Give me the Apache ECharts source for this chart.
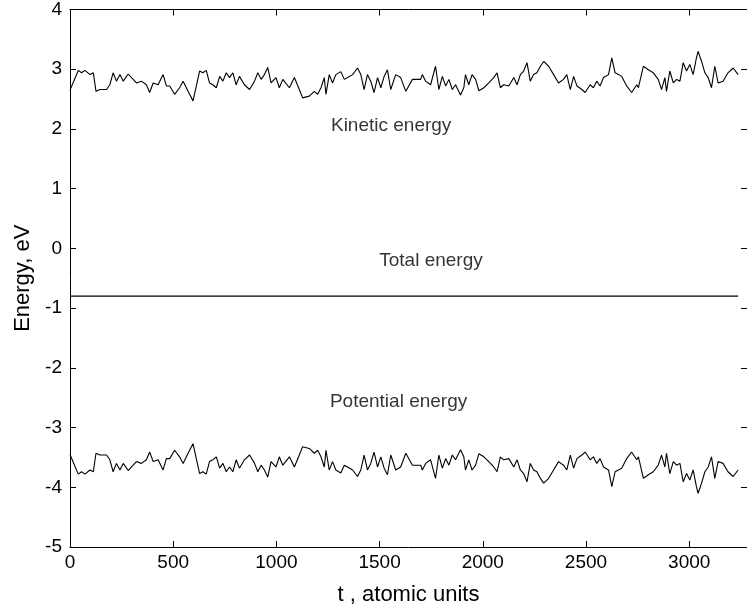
<!DOCTYPE html>
<html>
<head>
<meta charset="utf-8">
<script src="https://cdn.jsdelivr.net/npm/echarts@6/dist/echarts.min.js"></script>
<style>
html,body{margin:0;padding:0;background:#fff;}
#chart{width:747px;height:615px;}
</style>
</head>
<body>
<div id="chart"></div>
<script>
// time, atomic units
const time = [0,40,56,72,97,113,126,145,177,193,
209,225,242,258,282,298,322,346,370,386,
403,427,451,467,483,507,531,548,572,596,
628,644,660,676,692,709,725,741,757,773,
789,805,821,845,870,894,910,926,942,958,
974,998,1014,1031,1063,1087,1111,1127,1159,1184,
1200,1216,1232,1240,1256,1272,1288,1312,1329,1345,
1369,1393,1409,1425,1441,1457,1473,1490,1506,1522,
1538,1554,1578,1602,1627,1659,1699,1707,1723,1747,
1771,1787,1804,1820,1836,1852,1868,1892,1908,1916,
1932,1948,1965,1981,2005,2029,2053,2069,2085,2101,
2126,2150,2166,2182,2198,2214,2230,2246,2262,2279,
2295,2319,2343,2367,2391,2407,2424,2440,2456,2480,
2496,2520,2536,2552,2568,2585,2609,2625,2641,2657,
2673,2697,2721,2746,2754,2778,2802,2826,2850,2866,
2882,2890,2906,2923,2939,2955,2971,2987,3003,3019,
3035,3043,3060,3076,3092,3108,3124,3140,3164,3188,
3213,3237];

// kinetic energy, eV
const kinetic = [2.65,2.98,2.94,2.98,2.91,2.94,2.63,2.66,2.66,2.74,
2.94,2.80,2.91,2.80,2.92,2.86,2.77,2.80,2.74,2.61,
2.77,2.74,2.91,2.72,2.72,2.58,2.69,2.80,2.63,2.47,
2.97,2.94,2.98,2.77,2.74,2.69,2.88,2.80,2.94,2.86,
2.94,2.74,2.88,2.74,2.66,2.80,2.94,2.83,2.91,3.03,
2.77,2.86,2.69,2.83,2.69,2.86,2.66,2.52,2.55,2.63,
2.58,2.69,2.86,2.58,2.91,2.77,2.91,2.96,2.83,2.86,
2.91,3.02,2.91,2.66,2.91,2.80,2.61,2.86,2.69,2.88,
2.99,2.66,2.91,2.86,2.63,2.83,2.83,2.91,2.80,2.74,
3.05,2.66,2.88,2.72,2.83,2.66,2.74,2.57,2.69,2.91,
2.74,2.91,2.83,2.64,2.69,2.77,2.86,2.94,2.69,2.74,
2.72,2.86,2.74,2.91,2.97,3.11,2.80,2.91,2.94,3.05,
3.13,3.05,2.91,2.77,2.83,2.91,2.66,2.88,2.72,2.66,
2.61,2.74,2.69,2.80,2.72,2.86,2.91,3.19,2.94,2.91,
2.88,2.72,2.61,2.74,2.69,3.05,2.99,2.94,2.83,2.66,
2.86,2.63,2.97,2.77,2.83,2.80,3.11,2.97,3.08,2.91,
3.19,3.30,3.13,2.94,2.86,2.69,3.05,2.77,2.80,2.94,
3.02,2.91];

// potential energy, eV
const potential = [-3.45,-3.78,-3.74,-3.78,-3.71,-3.74,-3.43,-3.46,-3.46,-3.54,
-3.74,-3.60,-3.71,-3.60,-3.72,-3.66,-3.57,-3.60,-3.54,-3.41,
-3.57,-3.54,-3.71,-3.52,-3.52,-3.38,-3.49,-3.60,-3.43,-3.27,
-3.77,-3.74,-3.78,-3.57,-3.54,-3.49,-3.68,-3.60,-3.74,-3.66,
-3.74,-3.54,-3.68,-3.54,-3.46,-3.60,-3.74,-3.63,-3.71,-3.83,
-3.57,-3.66,-3.49,-3.63,-3.49,-3.66,-3.46,-3.32,-3.35,-3.43,
-3.38,-3.49,-3.66,-3.38,-3.71,-3.57,-3.71,-3.76,-3.63,-3.66,
-3.71,-3.82,-3.71,-3.46,-3.71,-3.60,-3.41,-3.66,-3.49,-3.68,
-3.79,-3.46,-3.71,-3.66,-3.43,-3.63,-3.63,-3.71,-3.60,-3.54,
-3.85,-3.46,-3.68,-3.52,-3.63,-3.46,-3.54,-3.37,-3.49,-3.71,
-3.54,-3.71,-3.63,-3.44,-3.49,-3.57,-3.66,-3.74,-3.49,-3.54,
-3.52,-3.66,-3.54,-3.71,-3.77,-3.91,-3.60,-3.71,-3.74,-3.85,
-3.93,-3.85,-3.71,-3.57,-3.63,-3.71,-3.46,-3.68,-3.52,-3.46,
-3.41,-3.54,-3.49,-3.60,-3.52,-3.66,-3.71,-3.99,-3.74,-3.71,
-3.68,-3.52,-3.41,-3.54,-3.49,-3.85,-3.79,-3.74,-3.63,-3.46,
-3.66,-3.43,-3.77,-3.57,-3.63,-3.60,-3.91,-3.77,-3.88,-3.71,
-3.99,-4.10,-3.93,-3.74,-3.66,-3.49,-3.85,-3.57,-3.60,-3.74,
-3.82,-3.71];

// total energy, eV (constant)
const totalTime = [0, 3237];
const total = [-0.8, -0.8];

// axis ticks
const xTicks = [0, 500, 1000, 1500, 2000, 2500, 3000];
const yTicks = [-5, -4, -3, -2, -1, 0, 1, 2, 3, 4];

// in-plot annotations (data coordinates of text centres)
const noteText = ['Kinetic energy', 'Total energy', 'Potential energy'];
const noteT = [1556, 1749, 1592];
const noteE = [2.05, -0.2, -2.57];

const FONT = '"Liberation Sans", Arial, Helvetica, sans-serif';

function pairs(xs, ys) { return xs.map((x, i) => [x, ys[i]]); }

function axisCommon() {
  return {
    axisLine: { show: true, onZero: false, lineStyle: { color: '#000', width: 1 } },
    axisTick: { show: true, inside: true, length: 6, lineStyle: { color: '#000' } },
    splitLine: { show: false }
  };
}

const chart = echarts.init(document.getElementById('chart'), null, { renderer: 'canvas' });
chart.setOption({
  animation: false,
  backgroundColor: '#fff',
  grid: { left: 70, top: 8, right: -3, bottom: 68, containLabel: false },
  xAxis: [
    Object.assign({
      type: 'value', position: 'bottom', min: 0, max: 3280, interval: 500,
      name: 't , atomic units', nameLocation: 'middle', nameGap: 37,
      nameTextStyle: { fontFamily: FONT, fontSize: 22, color: '#000' },
      axisLabel: {
        fontFamily: FONT, fontSize: 19, color: '#000', margin: 6,
        showMaxLabel: false,
        formatter: v => xTicks.includes(v) ? String(v) : ''
      }
    }, axisCommon()),
    Object.assign({
      type: 'value', position: 'top', min: 0, max: 3280, interval: 500,
      axisLabel: { show: false }
    }, axisCommon())
  ],
  yAxis: [
    Object.assign({
      type: 'value', position: 'left', min: -5, max: 4, interval: 1,
      name: 'Energy, eV', nameLocation: 'middle', nameGap: 34,
      nameTextStyle: { fontFamily: FONT, fontSize: 22, color: '#000' },
      axisLabel: {
        fontFamily: FONT, fontSize: 19, color: '#000', margin: 8,
        formatter: v => yTicks.includes(v) ? String(v) : ''
      }
    }, axisCommon()),
    Object.assign({
      type: 'value', position: 'right', min: -5, max: 4, interval: 1,
      axisLabel: { show: false }
    }, axisCommon())
  ],
  series: [
    {
      name: 'Kinetic energy', type: 'line', data: pairs(time, kinetic),
      showSymbol: false, symbol: 'none',
      lineStyle: { color: '#000', width: 1.1 }
    },
    {
      name: 'Potential energy', type: 'line', data: pairs(time, potential),
      showSymbol: false, symbol: 'none',
      lineStyle: { color: '#000', width: 1.1 }
    },
    {
      name: 'Total energy', type: 'line', data: pairs(totalTime, total),
      showSymbol: false, symbol: 'none',
      lineStyle: { color: '#000', width: 1.3 }
    },
    {
      name: 'notes', type: 'scatter', symbolSize: 0,
      data: noteText.map((s, i) => ({ value: [noteT[i], noteE[i]], name: s })),
      label: {
        show: true, position: 'inside', formatter: p => p.name,
        fontFamily: FONT, fontSize: 19, color: '#000'
      },
      silent: true
    }
  ]
});
</script>
</body>
</html>
